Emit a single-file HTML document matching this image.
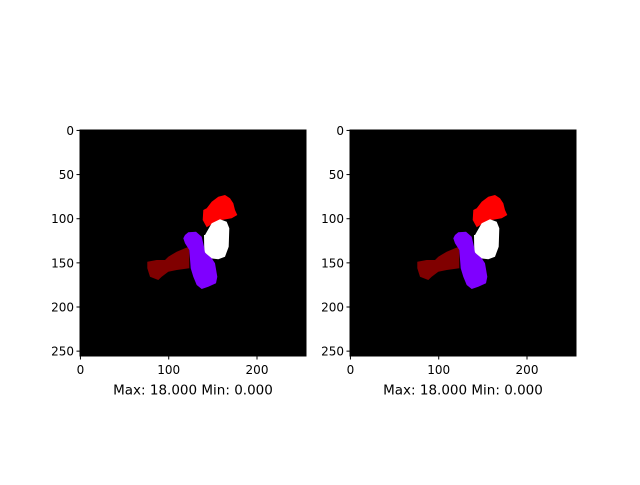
<!DOCTYPE html>
<html><head><meta charset="utf-8"><style>
body{margin:0;background:#fff;width:640px;height:480px;overflow:hidden;font-family:"Liberation Sans","DejaVu Sans",sans-serif}
</style></head><body>
<svg id="fig" width="640" height="480" xmlns="http://www.w3.org/2000/svg" font-family="DejaVu Sans, Liberation Sans, sans-serif" font-size="12">
<defs>
<g id="blobs">
<rect x="0" y="0" width="226" height="226" fill="#000"/>
<polygon fill="#ff0000" points="123.3,80 126.7,78.3 131.7,71.7 138.3,66.7 145,65 150,68.3 153.3,73.3 155,80 157.3,85 151.7,88.3 141.7,90 133.3,93.3 126.7,97.3 122.7,90"/>
<polygon fill="#800000" points="67.3,131.7 76.7,130 85,130 88.3,126.7 96.7,121.7 105,118.3 109.3,116.7 109.3,138.3 96.7,140 88.3,141.7 81.7,146.7 78.3,150 70,146.7 67.3,138.3"/>
<polygon fill="#ffffff" points="125,105 131.7,93.3 140,89.3 146.7,91.7 149.3,98.3 148.7,116.7 145,126.7 138.3,129.3 130,128.3 124.3,121.7 124,105"/>
<polygon fill="#7f00ff" points="105,105 108.3,102.3 116,101.7 121.7,106.7 124,116.7 125,122.7 131.7,128.3 135,133.3 137.3,146.7 136,153.3 128.3,156.7 121.7,159 116.7,155 113.3,146.7 110.7,138.3 109.3,120 105,113.3 103.3,108.3"/>
</g>
</defs>
</svg>
<script>
const yTicks=[0,50,100,150,200,250];
const xTicks=[0,100,200];
const captions=["Max: 18.000 Min: 0.000","Max: 18.000 Min: 0.000"];
const panelLefts=[80,350];
const NS="http://www.w3.org/2000/svg";
const svg=document.getElementById('fig');
const top0=130,size=226,n=256;
function sc(v){return (v+0.5)*size/n;}
function mk(t,a,p){const e=document.createElementNS(NS,t);for(const k in a)e.setAttribute(k,a[k]);(p||svg).appendChild(e);return e;}
panelLefts.forEach((L,i)=>{
 const g=mk('g',{transform:`translate(${L},${top0})`});
 
 
 mk('use',{href:'#blobs'},g);
 mk('rect',{x:0,y:0,width:size,height:size,fill:'none',stroke:'#000','stroke-width':1},g);
 yTicks.forEach(v=>{const y=sc(v);
  mk('line',{x1:-3.5,x2:0,y1:y,y2:y,stroke:'#000'},g);
  const t=mk('text',{x:-6,y:y+4.5,'text-anchor':'end'},g);t.textContent=v;
  
  });
 xTicks.forEach(v=>{const x=sc(v);
  mk('line',{x1:x,x2:x,y1:size,y2:size+3.5,stroke:'#000'},g);
  const t=mk('text',{x:x,y:size+18,'text-anchor':'middle'},g);t.textContent=v;
  
  });
 const c=mk('text',{x:size/2,y:size+38.5,'text-anchor':'middle','font-size':13.5},g);c.textContent=captions[i];
 
 
});
</script>
</body></html>
